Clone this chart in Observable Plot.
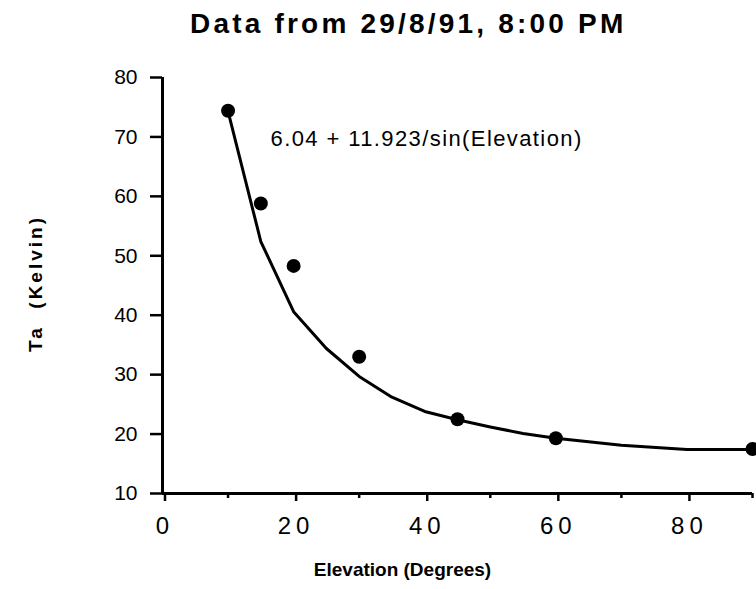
<!DOCTYPE html>
<html>
<head>
<meta charset="utf-8">
<script src="https://cdn.jsdelivr.net/npm/d3@7"></script>
<script src="https://cdn.jsdelivr.net/npm/@observablehq/plot@0.6"></script>
<style>
  html, body { margin: 0; padding: 0; background: #fff; }
  body { width: 756px; height: 589px; overflow: hidden; font-family: "Liberation Sans", Arial, Helvetica, sans-serif; }
  #title { height: 55px; position: relative; }
  #title span { position: absolute; left: 190px; top: 10px; font-size: 28px; font-weight: bold; letter-spacing: 3.2px; color: #000; white-space: nowrap; line-height: 1; }
  #chart svg { display: block; overflow: visible; }
  g[aria-label="x-axis tick label"] text { letter-spacing: 5px; }
</style>
</head>
<body>
<div id="title"><span>Data from 29/8/91, 8:00 PM</span></div>
<div id="chart"></div>
<script>
// Measured points
const elevation = [10, 15, 20, 30, 45, 60, 90];
const measuredTa = [74.4, 58.8, 48.3, 33.0, 22.5, 19.3, 17.5];
// Fitted curve as drawn
const fitElevation = [10, 15, 20, 25, 30, 35, 40, 45, 50, 55, 60, 70, 80, 90];
const fitTa = [74.3, 52.4, 40.6, 34.4, 29.7, 26.2, 23.8, 22.4, 21.2, 20.1, 19.3, 18.1, 17.4, 17.4];
// Ticks
const yTicks = [10, 20, 30, 40, 50, 60, 70, 80];
const xTicks = [0, 20, 40, 60, 80];
const xMinorTicks = [10, 30, 50, 70, 90];
// Text
const equationLabel = "6.04 + 11.923/sin(Elevation)";
const xTitle = "Elevation (Degrees)";
const yTitle = "Ta  (Kelvin)";

const points = elevation.map((e, i) => ({e, ta: measuredTa[i]}));
const curve = fitElevation.map((e, i) => ({e, ta: fitTa[i]}));

const font = '"Liberation Sans", Arial, Helvetica, sans-serif';

const chart = Plot.plot({
  width: 756,
  height: 534,
  marginLeft: 162,
  marginRight: 4,
  marginTop: 22,
  marginBottom: 96,
  style: {fontFamily: font, background: "#fff", color: "#000", overflow: "visible"},
  x: {domain: [0, 90]},
  y: {domain: [10, 80]},
  marks: [
    Plot.axisY({ticks: yTicks, tickSize: 12, tickPadding: 13, fontSize: 21, strokeWidth: 2.5, label: null, tickFormat: d => String(d)}),
    Plot.axisX({ticks: xTicks, tickSize: 8, tickPadding: 15, fontSize: 24, strokeWidth: 2.5, label: null, tickFormat: d => String(d), dx: 2.5}),
    Plot.axisX({ticks: xMinorTicks, tickSize: 5, strokeWidth: 2.5, text: null, label: null}),
    Plot.ruleX([0], {stroke: "#000", strokeWidth: 3}),
    Plot.ruleY([10], {stroke: "#000", strokeWidth: 3}),
    Plot.line(curve, {x: "e", y: "ta", stroke: "#000", strokeWidth: 3}),
    Plot.dot(points, {x: "e", y: "ta", r: 7, fill: "#000", stroke: "none"}),
    Plot.text([equationLabel], {frameAnchor: "top-left", dx: 108, dy: 61, textAnchor: "start", lineAnchor: "middle", fontSize: 22, fill: "#000"}),
    Plot.text([xTitle], {frameAnchor: "bottom", dx: -55, dy: 76, textAnchor: "middle", lineAnchor: "middle", fontSize: 19, fontWeight: "bold", fill: "#000"}),
    Plot.text([yTitle], {frameAnchor: "left", dx: -127, dy: -2, rotate: -90, textAnchor: "middle", lineAnchor: "middle", fontSize: 19, fontWeight: "bold", fill: "#000"})
  ]
});
document.getElementById("chart").appendChild(chart);

// letter spacing to match the wide lettering of the original
d3.select(chart).selectAll("text")
  .filter(function () { return this.textContent === equationLabel; })
  .style("letter-spacing", "1.4px");
d3.select(chart).selectAll("text")
  .filter(function () { return this.textContent === yTitle; })
  .style("letter-spacing", "3px")
  .style("white-space", "pre");
</script>
</body>
</html>
